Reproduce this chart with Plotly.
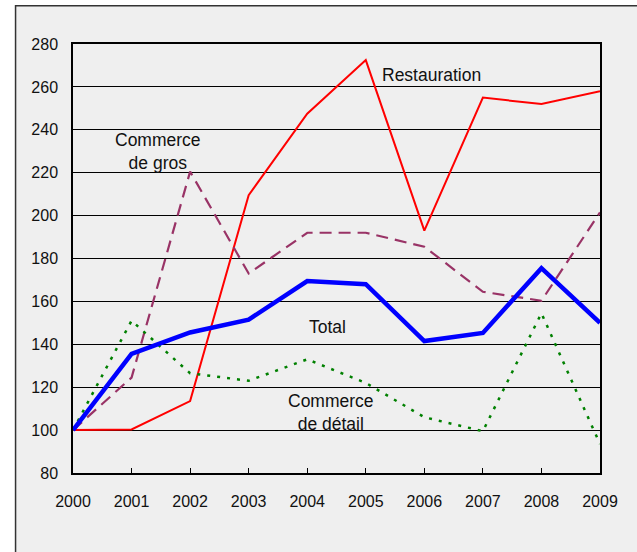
import plotly.graph_objects as go

years = [2000, 2001, 2002, 2003, 2004, 2005, 2006, 2007, 2008, 2009]
restauration = [100, 100.3, 113.5, 209.5, 247.5, 272.5, 193, 255, 252, 258]
commerce_gros = [100, 124.5, 220.5, 173, 192, 192, 185.5, 164.5, 160.3, 201.5]
commerce_detail = [100, 151, 126.5, 123, 133, 122, 106, 99.5, 154.5, 93.5]
total = [100, 135.5, 145.5, 151.5, 169.5, 168, 141.5, 145.3, 175.5, 150]
y_ticks = [80, 100, 120, 140, 160, 180, 200, 220, 240, 260, 280]

FONT = "Liberation Sans, Arial, sans-serif"

fig = go.Figure()
fig.add_trace(go.Scatter(x=years, y=restauration, mode="lines",
                         line=dict(color="#ff0000", width=2), name="Restauration"))
fig.add_trace(go.Scatter(x=years, y=commerce_gros, mode="lines",
                         line=dict(color="#993366", width=2.2, dash="12px,7px"), name="Commerce de gros"))
fig.add_trace(go.Scatter(x=years, y=commerce_detail, mode="lines",
                         line=dict(color="#008000", width=2.5, dash="3px,7px"), name="Commerce de détail"))
fig.add_trace(go.Scatter(x=years, y=total, mode="lines",
                         line=dict(color="#0000ff", width=4.5), name="Total"))

annots = [
    dict(x=2006.12, y=265.4, text="Restauration"),
    dict(x=2001.45, y=229.8, text="Commerce<br>de gros"),
    dict(x=2004.35, y=147.9, text="Total"),
    dict(x=2004.41, y=108.1, text="Commerce<br>de détail"),
]
for a in annots:
    fig.add_annotation(x=a["x"], y=a["y"], text=a["text"], showarrow=False,
                       xref="x", yref="y", align="center",
                       font=dict(family=FONT, size=17.5, color="#111111"))

# outer gray frame (extends beyond the visible canvas on right/bottom)
fig.add_shape(type="rect", xref="paper", yref="paper",
              x0=-0.109, x1=1.3, y0=-0.4, y1=1.089,
              line=dict(color="#333333", width=1.5), fillcolor="#efefef",
              layer="below")

fig.update_layout(
    width=637, height=552,
    margin=dict(l=73, r=37, t=44, b=79),
    paper_bgcolor="#ffffff",
    plot_bgcolor="#ffffff",
    showlegend=False,
    font=dict(family=FONT, size=16, color="#111111"),
)
fig.update_xaxes(range=[2000, 2009], tickmode="array", tickvals=years,
                 ticktext=[str(y) for y in years],
                 showgrid=False, zeroline=False,
                 showline=True, linecolor="#000000", linewidth=1.5, mirror=True,
                 ticks="inside", ticklen=5, tickcolor="#000000",
                 ticklabelstandoff=13,
                 tickfont=dict(family=FONT, size=16, color="#111111"))
fig.update_yaxes(range=[80, 280], tickmode="array", tickvals=y_ticks,
                 showgrid=True, gridcolor="#000000", gridwidth=1, zeroline=False,
                 showline=True, linecolor="#000000", linewidth=1.5, mirror=True,
                 ticks="", ticklabelstandoff=10,
                 tickfont=dict(family=FONT, size=16, color="#111111"))

fig.write_html("out.html", config={"displayModeBar": False},
               post_script="document.body.style.margin='0';document.body.style.overflow='hidden';")
